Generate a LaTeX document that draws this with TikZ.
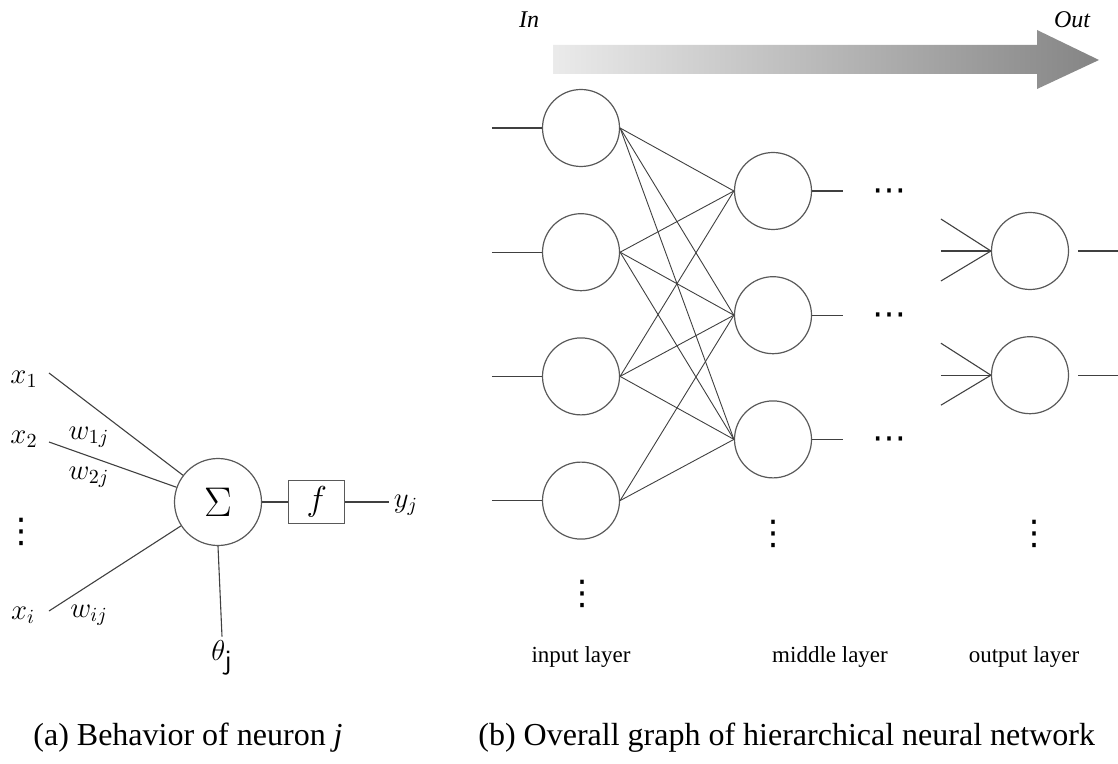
\documentclass[tikz,border=0pt]{standalone}
\usepackage{fontspec}
\setmainfont{Liberation Serif}
\newfontfamily\dotsfont{DejaVu Sans}
\usetikzlibrary{positioning}

\begin{document}
\begin{tikzpicture}[
	x=0.5pt, y=-0.5pt,
	% Define styles
	neuron/.style={circle, draw=black!65, line width=0.6pt, minimum size=38.5pt, inner sep=0pt},
	sumnode/.style={circle, draw=black!65, line width=0.6pt, minimum size=43.5pt, inner sep=0pt, font=\fontsize{22}{26}\selectfont},
	funcbox/.style={rectangle, draw=black!65, line width=0.6pt, minimum width=28pt, minimum height=21.5pt, inner sep=0pt, font=\fontsize{16}{19}\selectfont},
	mathlabel/.style={inner sep=0pt, font=\fontsize{14}{17}\selectfont},
	dotslabel/.style={inner sep=0pt, font=\fontsize{17}{20}\dotsfont},
	layerlabel/.style={inner sep=0pt, font=\fontsize{11.5}{14}\selectfont},
	flowlabel/.style={inner sep=0pt, font=\fontsize{12}{14}\selectfont\itshape},
	caption/.style={inner sep=0pt, anchor=west, font=\fontsize{16}{19}\selectfont},
	wire/.style={black!75, line width=0.55pt},
	link/.style={black!75, line width=0.45pt}
	]
	
	\useasboundingbox (0,0) rectangle (1118,764);
	
	% 1. Behavior of neuron j
	\node[sumnode] (sum) at (218,502) {$\Sigma$};
	\node[funcbox, right=13pt of sum] (func) {$f$};
	\coordinate[right=22pt of func] (yout);
	\node[mathlabel] (yj) at (406,505) {$y_j$};
	
	\node[mathlabel] (x1) at (24,379) {$x_1$};
	\node[mathlabel] (x2) at (24,439) {$x_2$};
	\node[dotslabel] (xdots) at (21,532) {⋮};
	\node[mathlabel] (xi) at (23,615) {$x_i$};
	\node[mathlabel] (w1) at (89,437) {$w_{1j}$};
	\node[mathlabel] (w2) at (89,477) {$w_{2j}$};
	\node[mathlabel] (wi) at (89,615) {$w_{ij}$};
	\node[mathlabel, inner sep=2pt] (theta) at (222,658) {$\theta_{\textsf{j}}$};
	
	\coordinate (in1) at (49,373);
	\coordinate (in2) at (49,442);
	\coordinate (ini) at (49,611);
	
	% Inputs, threshold and output of the neuron
	\draw[wire] (in1) -- (sum);
	\draw[wire] (in2) -- (sum);
	\draw[wire] (ini) -- (sum);
	\draw[wire] (sum.south) -- (theta.north);
	\draw[wire] (sum) -- (func);
	\draw[wire] (func) -- (yout);
	
	% 2. Flow arrow from In to Out
	\shade[left color=black!8, right color=black!48]
		(553,45) -- (1037,45) -- (1037,30) -- (1099,60) -- (1037,89) -- (1037,74) -- (553,74) -- cycle;
	\node[flowlabel] (flowin) at (529,20) {In};
	\node[flowlabel] (flowout) at (1072,20) {Out};
	
	% 3. Layers of the network
	\node[neuron] (i1) at (581,128) {};
	\node[neuron, below=23pt of i1] (i2) {};
	\node[neuron, below=23pt of i2] (i3) {};
	\node[neuron, below=23pt of i3] (i4) {};
	
	\node[neuron] (m1) at (773,191) {};
	\node[neuron, below=23pt of m1] (m2) {};
	\node[neuron, below=23pt of m2] (m3) {};
	
	\node[neuron] (o1) at (1030,251) {};
	\node[neuron, below=23pt of o1] (o2) {};
	
	\node[dotslabel] (idots) at (582,594) {⋮};
	\node[dotslabel] (mdots) at (773,534) {⋮};
	\node[dotslabel] (odots) at (1034,534) {⋮};
	\node[dotslabel, right=30pt of m1, yshift=-2pt] (hdots1) {⋯};
	\node[dotslabel, right=30pt of m2, yshift=-2pt] (hdots2) {⋯};
	\node[dotslabel, right=30pt of m3, yshift=-2pt] (hdots3) {⋯};
	
	\node[layerlabel] (inlayer) at (581,657) {input layer};
	\node[layerlabel] (midlayer) at (830,657) {middle layer};
	\node[layerlabel] (outlayer) at (1024,657) {output layer};
	
	% Lead lines into the input layer
	\coordinate[left=25pt of i1] (li1);
	\coordinate[left=25pt of i2] (li2);
	\coordinate[left=25pt of i3] (li3);
	\coordinate[left=25pt of i4] (li4);
	\draw[wire] (li1) -- (i1.west);
	\draw[wire] (li2) -- (i2.west);
	\draw[wire] (li3) -- (i3.west);
	\draw[wire] (li4) -- (i4.west);
	
	% Connections input -> middle
	\draw[link] (i1.east) -- (m1.west);
	\draw[link] (i1.east) -- (m2.west);
	\draw[link] (i1.east) -- (m3.west);
	\draw[link] (i2.east) -- (m1.west);
	\draw[link] (i2.east) -- (m2.west);
	\draw[link] (i2.east) -- (m3.west);
	\draw[link] (i3.east) -- (m1.west);
	\draw[link] (i3.east) -- (m2.west);
	\draw[link] (i3.east) -- (m3.west);
	\draw[link] (i4.east) -- (m2.west);
	\draw[link] (i4.east) -- (m3.west);
	
	% Lines out of the middle layer
	\coordinate[right=15.5pt of m1] (lm1);
	\coordinate[right=15.5pt of m2] (lm2);
	\coordinate[right=15.5pt of m3] (lm3);
	\draw[wire] (m1.east) -- (lm1);
	\draw[wire] (m2.east) -- (lm2);
	\draw[wire] (m3.east) -- (lm3);
	
	% Lines into and out of the output layer
	\coordinate[above left=16pt and 25pt of o1.west] (la1);
	\coordinate[left=25pt of o1.west] (lb1);
	\coordinate[below left=15pt and 25pt of o1.west] (lc1);
	\coordinate[above left=16pt and 25pt of o2.west] (la2);
	\coordinate[left=25pt of o2.west] (lb2);
	\coordinate[below left=15pt and 25pt of o2.west] (lc2);
	\draw[wire] (la1) -- (o1.west);
	\draw[wire] (lb1) -- (o1.west);
	\draw[wire] (lc1) -- (o1.west);
	\draw[wire] (la2) -- (o2.west);
	\draw[wire] (lb2) -- (o2.west);
	\draw[wire] (lc2) -- (o2.west);
	\coordinate[right=25pt of o1] (lo1);
	\coordinate[right=25pt of o2] (lo2);
	\draw[wire, shorten <=4.5pt] (o1.east) -- (lo1);
	\draw[wire, shorten <=4.5pt] (o2.east) -- (lo2);
	
	% 4. Captions
	\node[caption] (capa) at (33,738) {(a) Behavior of neuron \textit{j}};
	\node[caption] (capb) at (478,738) {(b) Overall graph of hierarchical neural network};
\end{tikzpicture}
\end{document}
